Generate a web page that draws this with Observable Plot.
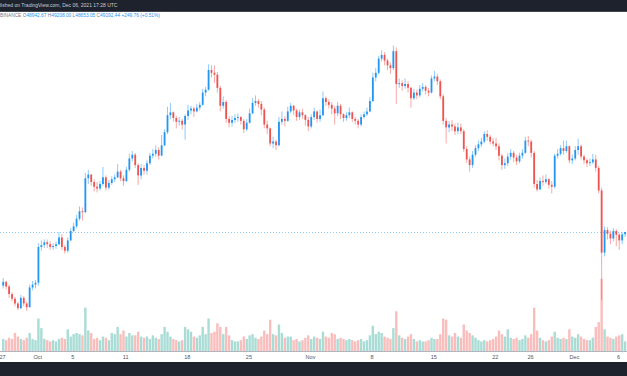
<!DOCTYPE html>
<html><head><meta charset="utf-8">
<script src="https://cdn.jsdelivr.net/npm/d3@7"></script>
<script src="https://cdn.jsdelivr.net/npm/@observablehq/plot@0.6"></script>
<style>
html,body{margin:0;padding:0;background:#fff;}
#wrap{position:relative;width:627px;height:376px;overflow:hidden;background:#fff;font-family:"Liberation Sans",Arial,sans-serif;}
#top{position:absolute;left:0;top:0;width:627px;height:11px;background:#1e222d;color:#c9ccd4;font-size:5px;line-height:11px;white-space:nowrap;border-bottom:1px solid #434651;}
#sym{position:absolute;left:0;top:12px;font-size:4.8px;line-height:8px;white-space:nowrap;color:#787b86;z-index:3;}
#sym .v{color:#2196f3}
#bot{position:absolute;left:0;top:362px;width:627px;height:14px;background:#1e222d;}
#vol,#price{position:absolute;left:0;top:20px;}
#price{z-index:2}
#vol{z-index:1}
</style></head><body>
<div id="wrap">
  <div id="top">lished on TradingView.com, Dec 06, 2021 17:28 UTC</div>
  <div id="sym"></div>
  <div id="vol"></div>
  <div id="price"></div>
  <div id="bot"></div>
</div>
<script>
// BTCUSDT, 8-hour candles from Sep 27 2021 00:00 UTC (one row per day)
const firstOpen = 43500;
const closes = [
43900,43400,42600, 42100,41600,41100, 42200,41600,41200, 43300,43600,43800,
47600,47800,48100, 47900,47600,47700, 47900,48600,47600, 47200,48300,49300,
49800,50600,51400, 51300,54900,55300, 54500,54000,53800, 54300,55000,53900,
54400,54800,55000, 55600,54900,54600, 55800,57000,57400, 56300,55200,56000,
55700,56500,57300, 57500,57900,57300, 58400,59800,61600, 61900,61300,60900,
61000,60600,61500, 62100,62300,62000, 62400,62700,64000, 64300,66400,66100,
65900,64500,62600, 63000,61200,60800, 61100,61300,61400, 61000,60100,60800,
61800,62900,63100, 62800,62200,60600, 60200,58600,58800, 58400,60900,61200,
61000,62000,62600, 62100,61400,61900, 61600,61100,60400,
61400,62000,61200, 61600,63400,63000, 62700,62300,61800, 62600,61700,61300,
61600,61900,61200, 61000,60600,61400, 61700,62000,63100, 65600,66100,67600,
68000,67400,66900, 66600,68400,64900, 65000,64700,64900, 64500,63400,64000,
63700,64400,64600, 64200,64000,65500, 65700,65200,63600, 61000,60300,60600,
60400,59900,60300, 59900,58000,56900, 56300,57400,58100, 58500,58800,59600,
59300,58800,58600, 58300,57300,56300, 56500,57200,57600, 57100,56700,57300,
57600,58900,58800, 57600,54300,53700, 54600,54500,54800, 54200,54000,57300,
57500,58100,57800, 58300,56800,57000,
57900,58300,57200, 56800,56500,56600, 56900,56000,53600, 47000,49400,49000,
48500,49300,48900, 48300,48942.67,49192.44
];
const highs = [
44300,44000,43600, 42800,42300,41800, 42500,42400,41800, 43600,44000,44100,
48000,48300,48400, 48400,48200,48000, 48200,49200,49000, 47800,48600,49600,
50200,51000,51900, 51800,55500,55800, 55300,54800,54500, 54600,56100,55200,
54700,55100,55300, 56400,55800,55200, 56100,57500,57800, 57600,56500,56400,
56300,56800,57600, 58000,58400,58200, 59500,60100,62500, 62900,62000,61500,
61400,61200,61700, 62700,62600,62500, 62800,63000,64400, 64600,67000,66900,
66900,66200,64700, 63600,63200,61500, 61500,61700,61800, 61500,61200,61200,
62300,63400,63700, 63300,63100,62400, 61000,60300,59300, 59000,61400,62000,
61500,62500,62900, 62700,62300,62200, 62300,61700,61400,
61700,62400,62100, 62200,64100,63600, 63300,63000,62600, 63000,62800,61800,
61900,62400,62000, 61400,61200,61700, 62000,62400,63500, 66100,66600,67900,
68500,68300,67600, 67200,69000,68800, 65500,65300,65500, 65200,64600,64400,
64300,64800,65000, 64800,64500,65800, 66300,66000,65400, 63800,61300,61000,
61100,60700,60800, 60700,60100,58300, 57200,57800,58400, 58900,59200,59900,
60000,59500,59200, 59200,58600,57500, 57000,57600,58000, 57800,57400,57600,
58000,59300,59400, 59000,57800,54700, 55000,55200,55300, 54900,54600,57500,
58000,58400,58900, 58900,58400,57400,
58300,59100,58500, 57400,57000,57000, 57500,57400,56200, 53900,49800,49700,
49300,49600,49500, 49100,49200,49208.00
];
const lows = [
43200,43100,42200, 41800,41300,40900, 41000,41300,40800, 41200,43000,43200,
43500,47200,47500, 47500,47300,47300, 47400,47800,47300, 46900,47000,48200,
49200,49600,50400, 50400,51200,54300, 54100,53500,53400, 53600,54100,53600,
53700,54200,54500, 54900,54600,54100, 54500,55600,56700, 56000,54200,54800,
55300,55300,56300, 57000,57200,56900, 57300,58300,59600, 61200,60900,60200,
60500,60100,59000, 61100,61700,61400, 61900,62100,62600, 63600,64200,65600,
65000,64000,62000, 62300,60800,60300, 60400,60800,60900, 60600,59700,59900,
60700,61700,62600, 62400,61600,60200, 59600,58300,58100, 57900,58300,60600,
60400,60900,61800, 61600,61000,61100, 61200,60500,59900,
60200,61100,60800, 60900,61500,62600, 62300,61700,60600, 61500,61200,60900,
61000,61300,60900, 60600,60200,60400, 61200,61500,61900, 63000,65200,65900,
67300,66900,66400, 66000,66400,62800, 64500,64200,64400, 64000,62400,63200,
63300,63500,64100, 63800,63600,63900, 65200,64800,63300, 60600,58600,59800,
59900,59500,59600, 59600,57700,56500, 55600,56000,57200, 57800,58200,58600,
58900,58500,58300, 57900,56800,55800, 55900,56200,56900, 56600,56300,56500,
57000,57500,58300, 57100,53900,53500, 53700,54100,54300, 53800,53300,53800,
57000,57300,57400, 57600,56500,56400,
56800,57400,56900, 56400,56100,56200, 56400,55600,53300, 42000,46600,48400,
47900,48200,47700, 47300,47900,48653.05
];
// volume, thousand BTC
const volumes = [
10,9,11, 10,15,12, 10,9,11, 15,10,9,
27,19,10, 9,8,9, 8,10,11, 10,18,12,
14,15,14, 13,36,17, 15,10,11, 9,12,11,
9,15,14, 20,14,17, 12,15,13, 13,16,12,
11,12,10, 13,11,10, 14,20,16, 12,10,9,
8,9,20, 18,16,12, 11,13,20, 14,27,15,
16,23,20, 14,20,13, 9,8,8, 9,12,10,
13,14,11, 10,12,17, 14,26,14, 13,22,15,
11,12,12, 9,10,8, 9,11,13,
10,12,11, 10,16,12, 11,15,14, 10,11,10,
9,10,9, 8,9,10, 8,9,13, 21,14,16,
15,12,11, 10,19,33, 13,11,10, 12,14,10,
8,9,8, 8,9,11, 10,10,14, 27,26,13,
12,15,12, 11,22,17, 15,13,11, 9,8,9,
8,9,10, 12,17,14, 12,18,11, 10,11,9,
10,13,11, 14,36,17, 11,9,8, 9,12,16,
11,10,11, 10,18,12,
11,14,12, 10,9,9, 11,20,24, 60,18,12,
11,10,12, 13,14,8
];
const tickDates = ["2021-09-27","2021-10-01","2021-10-05","2021-10-11","2021-10-18","2021-10-25","2021-11-01","2021-11-08","2021-11-15","2021-11-22","2021-11-26","2021-12-01","2021-12-06"];
const tickLabels = ["27","Oct","5","11","18","25","Nov","8","15","22","26","Dec","6"];
const symbolParts = [["BINANCE",""],["O","48942.67"],["H","49208.00"],["L","48653.05"],["C","49192.44"],["","+249.76 (+0.51%)"]];

const UP = "#2196f3", DOWN = "#ef5350", VUP = "#a8dcd5", VDOWN = "#f9bdbc";
const T0 = Date.UTC(2021, 8, 27);
const HOUR = 3600e3;
const data = closes.map((c, i) => {
  const o = i ? closes[i-1] : firstOpen;
  return {t: new Date(T0 + i*8*HOUR + 2*HOUR), o, c,
          h: Math.max(highs[i], o, c), l: Math.min(lows[i], o, c),
          v: volumes[i], up: c >= o};
});
const xDomain = [new Date(Date.UTC(2021,8,26,18,33)), new Date(Date.UTC(2021,11,7,0,33))];
const labelMap = new Map(tickDates.map((d,i)=>[+new Date(d+"T00:00:00Z"), tickLabels[i]]));

document.getElementById("sym").innerHTML = symbolParts.map(([k,v]) =>
  v === "" ? k : `${k}<span class="v">${v}</span>`).join(" ");

const vol = Plot.plot({
  width: 627, height: 331, margin: 0,
  style: {background: "transparent"},
  x: {type: "utc", domain: xDomain, axis: null},
  y: {domain: [0, 275], axis: null},
  marks: [
    Plot.ruleX(data, {x: "t", y1: 0, y2: "v", stroke: d => d.up ? VUP : VDOWN, strokeWidth: 2.4})
  ]
});
document.getElementById("vol").appendChild(vol);

const price = Plot.plot({
  width: 627, height: 342, marginTop: 0, marginBottom: 11, marginLeft: 0, marginRight: 0,
  style: {background: "transparent", fontFamily: "Liberation Sans, Arial, sans-serif"},
  x: {type: "utc", domain: xDomain, label: null},
  y: {domain: [36553, 71709], axis: null},
  marks: [
    Plot.ruleY([closes[closes.length-1]], {stroke: UP, strokeOpacity: 0.5, strokeDasharray: "1,2"}),
    Plot.ruleX(data, {x: "t", y1: "l", y2: "h", stroke: d => d.up ? UP : DOWN, strokeWidth: 1, strokeOpacity: 0.5}),
    Plot.ruleX(data, {x: "t", y1: "o", y2: "c", stroke: d => d.up ? UP : DOWN, strokeWidth: 1.8}),
    Plot.frame({anchor: "bottom", stroke: "#b2b5be"}),
    Plot.axisX({ticks: tickDates.map(d => new Date(d+"T00:00:00Z")), tickFormat: d => labelMap.get(+d),
      label: null, tickSize: 0, tickPadding: 3.5, fontSize: 5.5, fill: "#50535e"})
  ]
});
document.getElementById("price").appendChild(price);
</script>
</body></html>
